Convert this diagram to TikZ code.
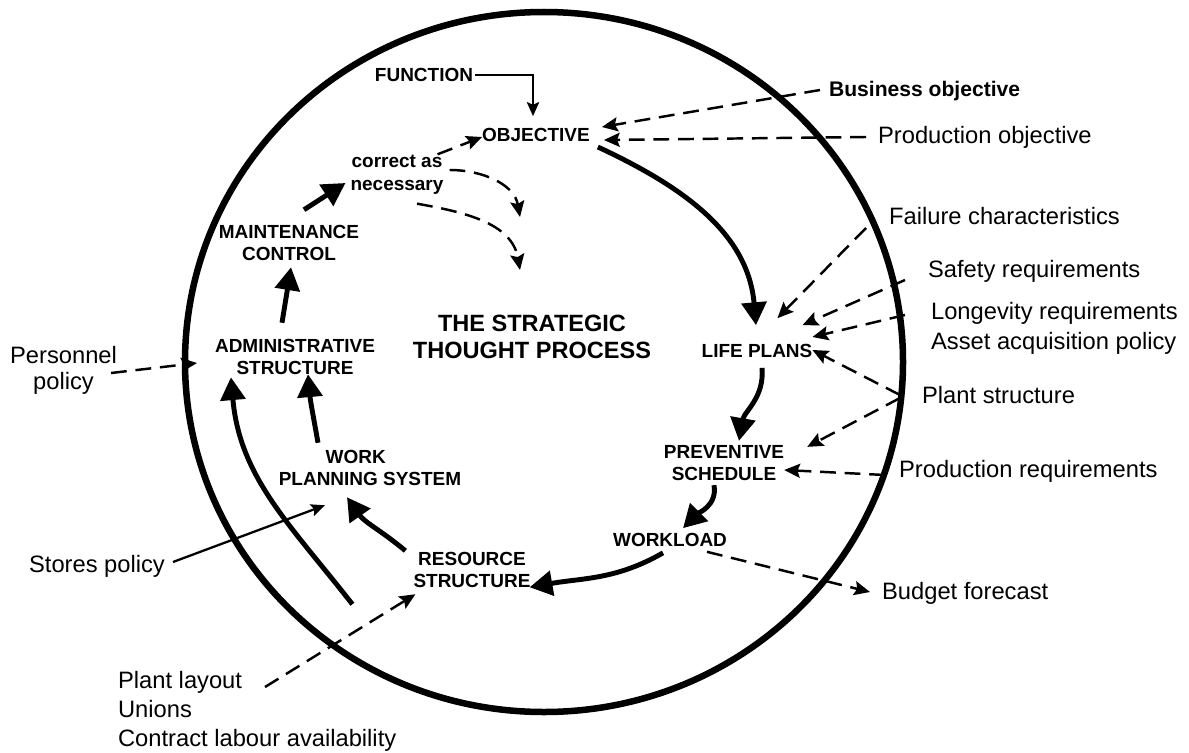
\documentclass[tikz,border=0pt]{standalone}
\usepackage{fontspec}
\setmainfont{Liberation Sans}
\usepackage{tikz}
\usetikzlibrary{arrows.meta}

\begin{document}
\begin{tikzpicture}[x=0.02cm,y=0.02cm,
	stage/.style={font=\bfseries\fontsize{10.8}{13}\selectfont,align=center,inner sep=1pt},
	source/.style={font=\fontsize{13.5}{16.5}\selectfont,align=left,inner sep=1pt,anchor=west},
	flow/.style={line width=2.8pt,-{Triangle[length=13pt,width=14pt]}},
	feed/.style={line width=1.4pt,dash pattern=on 9pt off 5pt,-{Stealth[length=9pt,width=8pt,inset=1.5pt]}},
	lead/.style={line width=1.3pt,-{Stealth[length=8pt,width=7pt,inset=1.5pt]}}]
	    \useasboundingbox (0,0) rectangle (1189,752);
	    \draw[line width=3.7pt] (544,390) ellipse [x radius=359,y radius=350];
	    \node[stage] (func) at (424,677) {FUNCTION};
	    \node[stage] (obj) at (536,617) {OBJECTIVE};
	    \node[stage] (corr) at (397,577) {correct as\\necessary};
	    \node[stage] (mc) at (289,509) {MAINTENANCE\\CONTROL};
	    \node[stage,font=\bfseries\fontsize{13.4}{15.3}\selectfont] (strat) at (532,415) {THE STRATEGIC\\THOUGHT PROCESS};
	    \node[stage] (adm) at (295,395) {ADMINISTRATIVE\\STRUCTURE};
	    \node[stage] (wps) at (370,284) {WORK\hspace*{1.5em}\\PLANNING SYSTEM};
	    \node[stage] (res) at (472,182) {RESOURCE\\STRUCTURE};
	    \node[stage] (life) at (757,401) {LIFE PLANS};
	    \node[stage] (prev) at (724,289) {PREVENTIVE\\SCHEDULE};
	    \node[stage] (work) at (670,212) {WORKLOAD};
	    \node[source,font=\bfseries\fontsize{12}{14}\selectfont] (bus) at (827,661) {Business objective};
	    \node[source] (prodobj) at (876,615) {Production objective};
	    \node[source] (fail) at (887,536) {Failure characteristics};
	    \node[source] (safety) at (926,481) {Safety requirements};
	    \node[source,font=\fontsize{13.5}{17}\selectfont] (long) at (929,424) {Longevity requirements\\Asset acquisition policy};
	    \node[source] (plantst) at (920,357) {Plant structure};
	    \node[source] (prodreq) at (897,281) {Production requirements};
	    \node[source] (budget) at (880,159) {Budget forecast};
	    \node[source,align=center,font=\fontsize{13.5}{14.7}\selectfont] (pers) at (8,382) {Personnel\\policy};
	    \node[source] (stores) at (27,186) {Stores policy};
	    \node[source,anchor=north west] (layout) at (116,83) {Plant layout\\Unions\\Contract labour availability};
	    \coordinate (hintA) at (520,535);
	    \coordinate (hintB) at (520,482);
	    \draw[lead] (func.east) -| ([shift={(-3,10)}]obj.north);
	    \draw[feed] ([shift={(-7,1)}]bus.west) -- ([shift={(10,8)}]obj.east);
	    \draw[feed] ([shift={(-10,0)}]prodobj.west) -- ([shift={(12,-5)}]obj.east);
	    \draw[feed] ([shift={(-8,-1)}]corr.north east) -- ([shift={(2,-2)}]obj.west);
	    \draw[feed] ([shift={(4,5)}]corr.east) to[out=0,in=100] (hintA);
	    \draw[feed] ([shift={(20,-7)}]corr.south) to[out=-10,in=100] (hintB);
	    \draw[flow] ([shift={(6,-12)}]obj.east) to[out=-25,in=95] ([shift={(-1,17)}]life.north);
	    \draw[flow] ([shift={(5,-8)}]life.south) to[out=-85,in=80] ([shift={(15,2)}]prev.north);
	    \draw[flow] ([shift={(-10,-2)}]prev.south) to[out=-80,in=45] ([shift={(13,3)}]work.north);
	    \draw[flow] ([shift={(-7,-4)}]work.south) to[out=-150,in=10] ([shift={(-3,3)}]res.south east);
	    \draw[flow] ([shift={(-6,-1)}]res.north west) to[out=140,in=-55] ([shift={(-23,-9)}]wps.south);
	    \draw[flow] ([shift={(-52,5)}]wps.north) to[out=100,in=-85] ([shift={(13,3)}]adm.south);
	    \draw[flow] ([shift={(-59,-14)}]res.south west) to[out=128,in=-85] ([shift={(18,0)}]adm.south west);
	    \draw[flow] ([shift={(-13,14)}]adm.north) -- ([shift={(2,-4)}]mc.south);
	    \draw[flow] ([shift={(15,13)}]mc.north) -- ([shift={(-3,-8)}]corr.west);
	    \draw[feed] ([shift={(-8,-3)}]pers.east) -- ([shift={(-16,-6)}]adm.west);
	    \draw[lead] ([shift={(6,4)}]stores.east) -- ([shift={(-45,-17)}]wps.south);
	    \draw[feed] ([shift={(149,-18)}]layout.north west) -- ([shift={(4,-4)}]res.south west);
	    \draw[feed] ([shift={(-21,-12)}]fail.west) -- ([shift={(-37,24)}]life.north east);
	    \draw[feed] ([shift={(-21,-9)}]safety.west) -- ([shift={(-12,17)}]life.north east);
	    \draw[feed] ([shift={(-24,13)}]long.west) -- ([shift={(-2,14)}]life.east);
	    \draw[feed] ([shift={(-20,0)}]plantst.west) -- ([shift={(-2,1)}]life.east);
	    \draw[feed] ([shift={(-20,-3)}]plantst.west) -- ([shift={(21,-4)}]prev.north east);
	    \draw[feed] ([shift={(-12,-4)}]prodreq.west) -- ([shift={(-2,-7)}]prev.east);
	    \draw[feed] ([shift={(-22,-3)}]work.south east) -- ([shift={(-10,1)}]budget.west);
	\end{tikzpicture}
\end{document}
